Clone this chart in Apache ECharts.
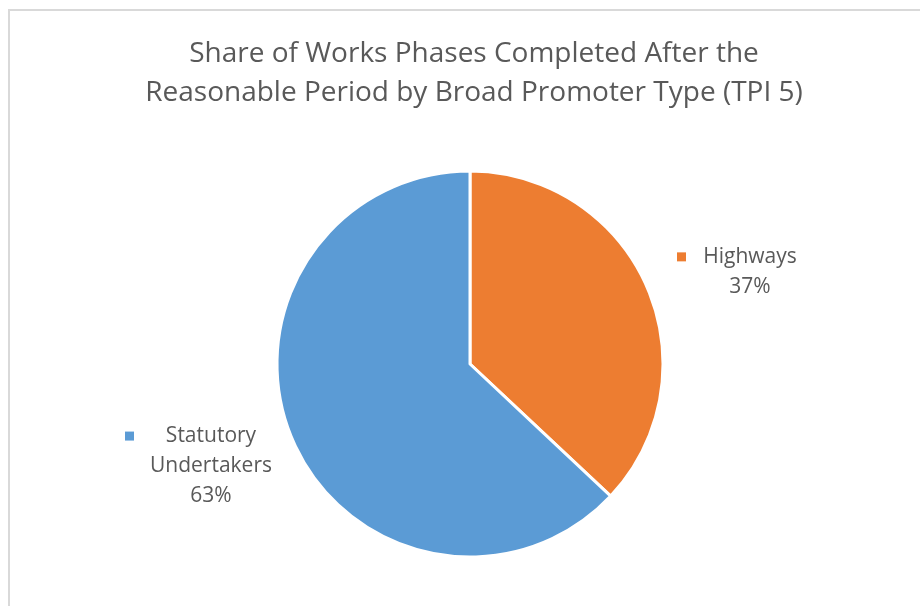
<!DOCTYPE html>
<html>
<head>
<meta charset="utf-8">
<script src="https://cdn.jsdelivr.net/npm/echarts@6/dist/echarts.min.js"></script>
<style>
  html, body { margin: 0; padding: 0; background: #fff; }
  .frame {
    position: absolute; left: 8px; top: 9px; right: -10px; bottom: -10px;
    border-top: 2px solid #d9d9d9; border-left: 2px solid #d9d9d9;
  }
  #chart { position: absolute; left: 0; top: 0; width: 920px; height: 606px; }
</style>
</head>
<body>
<div class="frame"></div>
<div id="chart"></div>
<script>
// chart data
const titleText = 'Share of Works Phases Completed After the\nReasonable Period by Broad Promoter Type (TPI 5)';
const categories = ['Highways', 'Statutory Undertakers'];
const shares = [37, 63];
const colors = ['#ED7D31', '#5B9BD5'];

const chart = echarts.init(document.getElementById('chart'));

// each word of the name on its own line, value last, marker before the first line
const textWidths = [100, 126];
const lineLengths = [39, 64];
const pad = '\u00a0';

const pieData = categories.map((name, i) => ({
  name: name,
  value: shares[i],
  itemStyle: { color: colors[i] },
  labelLine: { show: false, length: lineLengths[i], length2: 0 },
  label: {
    width: 23 + textWidths[i],
    formatter: p => {
      const words = p.name.split(' ');
      let s = '{m|' + pad + '}{g|' + pad + '}{t|' + words[0] + '}';
      words.slice(1).forEach(w => { s += '\n{s|' + pad + '}{t|' + w + '}'; });
      s += '\n{s|' + pad + '}{t|' + p.value + '%}';
      return s;
    },
    rich: {
      m: { width: 9, height: 9, lineHeight: 9, fontSize: 9, backgroundColor: colors[i] },
      g: { width: 14, fontSize: 9 },
      s: { width: 23, fontSize: 9 },
      t: {
        width: textWidths[i], align: 'center',
        fontSize: 21, lineHeight: 30, color: '#595959', fontFamily: 'Open Sans'
      }
    }
  }
}));

chart.setOption({
  animation: false,
  title: {
    text: titleText,
    left: 469,
    textAlign: 'center',
    top: 30,
    textStyle: { fontSize: 28, fontWeight: 'normal', color: '#595959', lineHeight: 39, fontFamily: 'Open Sans' }
  },
  series: [{
    type: 'pie',
    left: 100,
    right: 95,
    center: [370, 364],
    radius: 193,
    startAngle: 90,
    clockwise: true,
    itemStyle: { borderColor: '#fff', borderWidth: 3 },
    label: {
      show: true,
      position: 'outside',
      alignTo: 'edge',
      edgeDistance: 25,
      overflow: 'none',
      lineHeight: 30
    },
    emphasis: { disabled: true },
    data: pieData
  }]
});
</script>
</body>
</html>
